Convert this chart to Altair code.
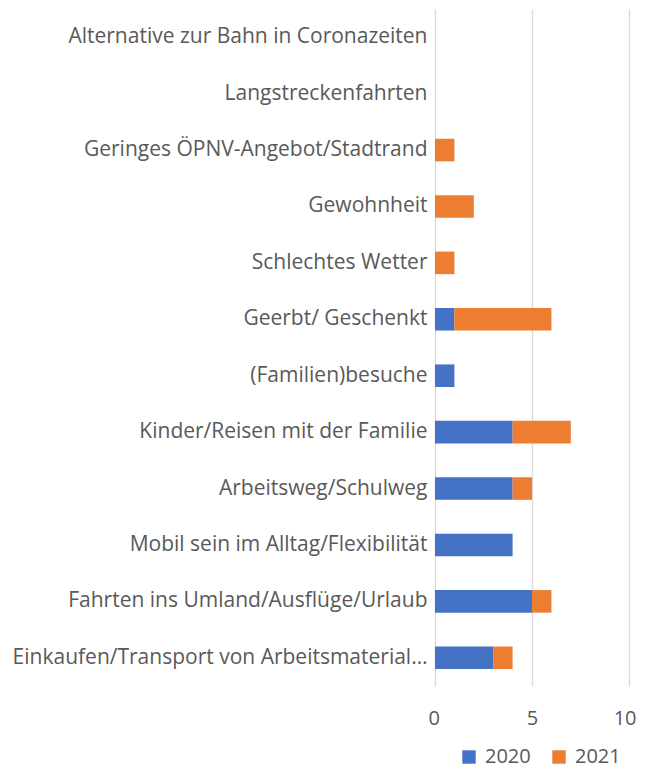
import altair as alt
import pandas as pd

categories = [
    "Alternative zur Bahn in Coronazeiten",
    "Langstreckenfahrten",
    "Geringes ÖPNV-Angebot/Stadtrand",
    "Gewohnheit",
    "Schlechtes Wetter",
    "Geerbt/ Geschenkt",
    "(Familien)besuche",
    "Kinder/Reisen mit der Familie",
    "Arbeitsweg/Schulweg",
    "Mobil sein im Alltag/Flexibilität",
    "Fahrten ins Umland/Ausflüge/Urlaub",
    "Einkaufen/Transport von Arbeitsmaterial…",
]
v2020 = [0, 0, 0, 0, 0, 1, 1, 4, 4, 4, 5, 3]
v2021 = [0, 0, 1, 2, 1, 5, 0, 3, 1, 0, 1, 1]
series = ["2020", "2021"]

rows = []
for c, a, b in zip(categories, v2020, v2021):
    rows.append({"cat": c, "year": "2020", "value": a, "ord": 0})
    rows.append({"cat": c, "year": "2021", "value": b, "ord": 1})
df = pd.DataFrame(rows)

font = "Open Sans"
chart = alt.Chart(df).mark_bar().encode(
    y=alt.Y("cat:N", sort=categories, title=None,
            scale=alt.Scale(paddingInner=0.6, paddingOuter=0.3),
            axis=alt.Axis(domain=False, ticks=False, grid=False, labelFontSize=21,
                          labelColor="#595959", labelFont=font, labelPadding=8,
                          labelLimit=500)),
    x=alt.X("value:Q", title=None, stack="zero",
            scale=alt.Scale(domain=[0, 10], nice=False),
            axis=alt.Axis(values=[0, 5, 10], domain=False, ticks=False,
                          gridColor="#D9D9D9", gridWidth=1.3, labelFontSize=20,
                          labelColor="#595959", labelFont=font, labelPadding=22,
                          labelFlush=True, labelFlushOffset=7)),
    color=alt.Color("year:N", scale=alt.Scale(domain=series, range=["#4472C4", "#ED7D31"]),
                    legend=alt.Legend(title=None, orient="none", direction="horizontal",
                                      legendX=24, legendY=738, symbolType="square",
                                      symbolSize=180, symbolStrokeWidth=0,
                                      labelFontSize=20, labelColor="#595959",
                                      labelFont=font, columnPadding=18, labelOffset=6)),
    order=alt.Order("ord:Q"),
).properties(
    width=194, height=677,
    autosize=alt.AutoSizeParams(type="none"),
    padding={"left": 427, "top": 1, "right": 8, "bottom": 86},
).configure_view(stroke=None)

chart.save("out.html", embed_options={"renderer": "svg", "actions": False})
